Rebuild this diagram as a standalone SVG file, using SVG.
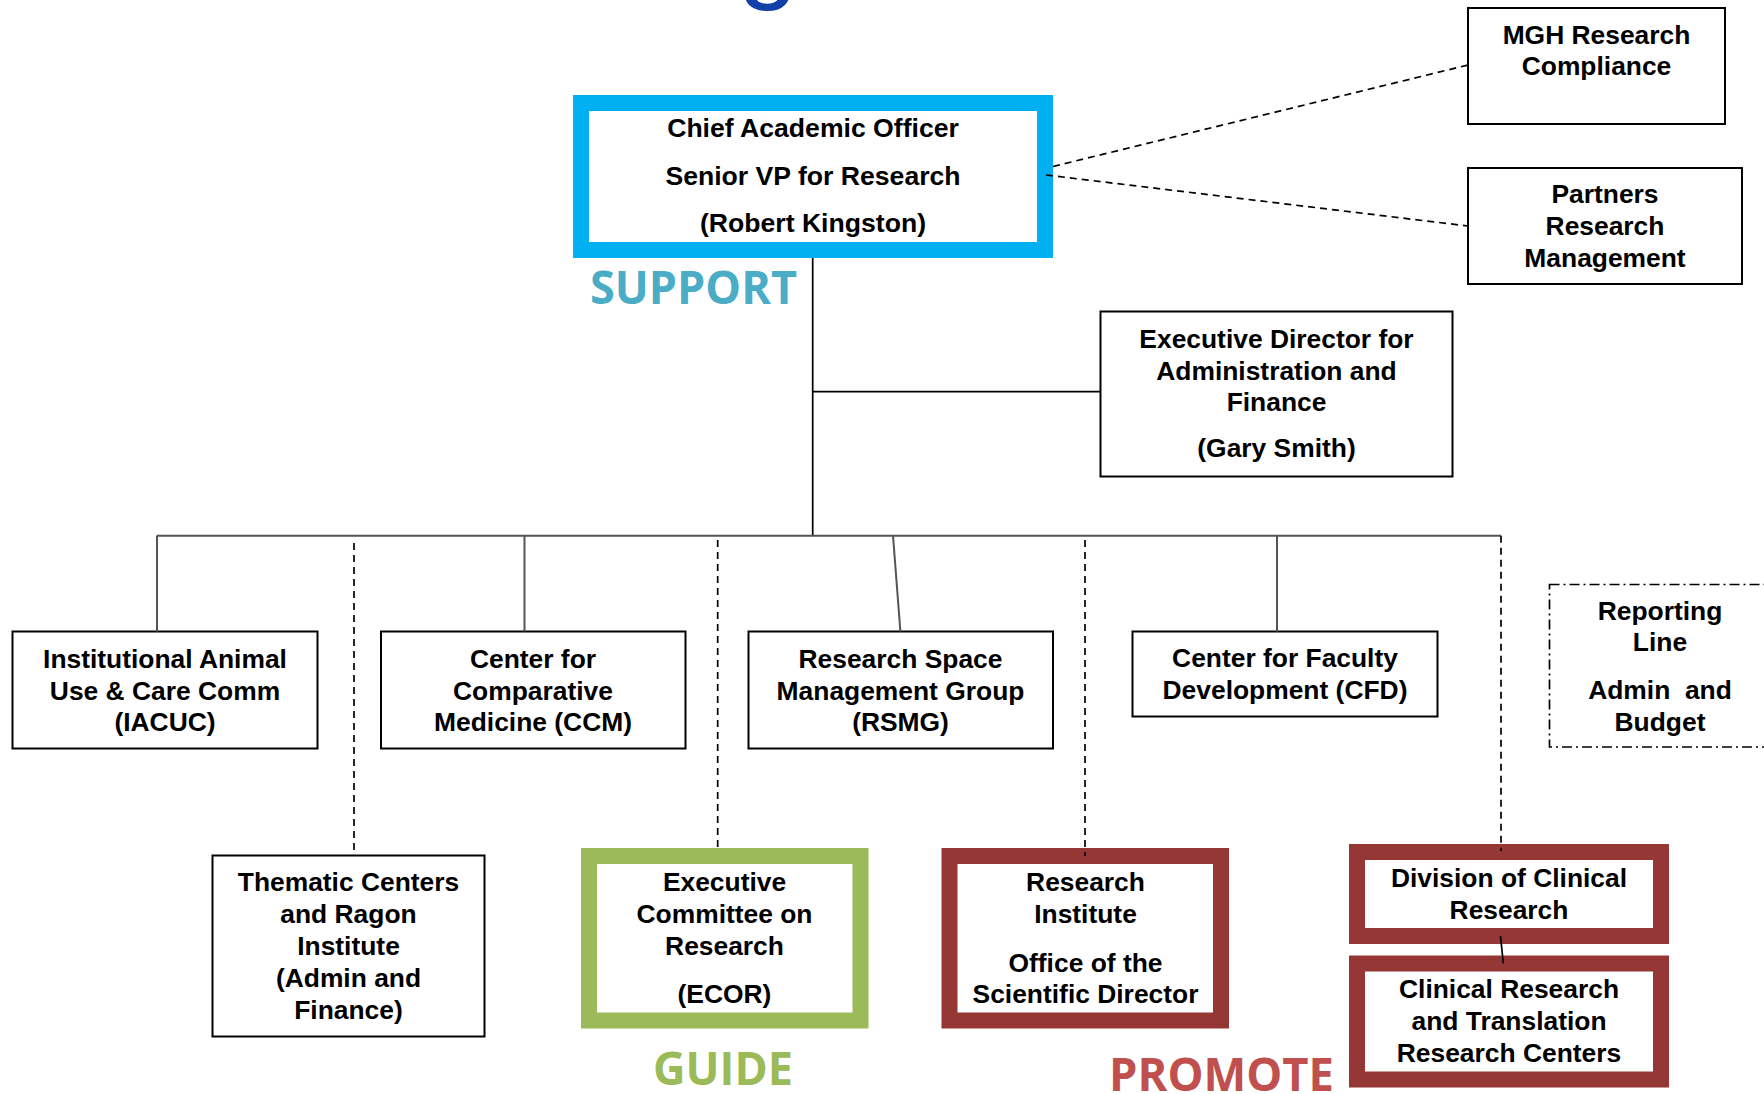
<svg xmlns="http://www.w3.org/2000/svg" width="1764" height="1094" viewBox="0 0 1764 1094">
<style>
.box{fill:#fff;stroke:#000;stroke-width:2}
.t{font-family:"Liberation Sans",Arial,sans-serif;font-weight:bold;font-size:26.4px;fill:#000;text-anchor:middle}
.big{font-family:"Open Sans","Liberation Sans",sans-serif;font-weight:bold;font-size:46px}
.solid{fill:none;stroke:#000;stroke-width:1.7}
.bus{fill:none;stroke:#555;stroke-width:2}
.dash{fill:none;stroke:#000;stroke-width:1.7;stroke-dasharray:7 5}
</style>
<rect width="1764" height="1094" fill="#fff"/>
<text x="768" y="-11" font-family="Liberation Sans,sans-serif" font-size="108" fill="#1040A8" text-anchor="middle">g</text>

<g id="chief">
<rect x="581" y="103" width="464" height="147" fill="#fff" stroke="#00B0F0" stroke-width="16"/>
<text class="t" style="font-size:26.6px"><tspan x="813" y="137">Chief Academic Officer</tspan><tspan x="813" y="185">Senior VP for Research</tspan><tspan x="813" y="232">(Robert Kingston)</tspan></text>
</g>
<text id="support" class="big" x="590" y="304" fill="#4BACC6" textLength="207" lengthAdjust="spacingAndGlyphs">SUPPORT</text>

<g id="mgh">
<rect class="box" x="1468" y="8" width="257" height="116"/>
<text class="t"><tspan x="1596.5" y="43.5">MGH Research</tspan><tspan x="1596.5" y="75">Compliance</tspan></text>
</g>
<g id="partners">
<rect class="box" x="1468" y="168" width="274" height="116"/>
<text class="t"><tspan x="1605" y="203">Partners</tspan><tspan x="1605" y="235">Research</tspan><tspan x="1605" y="267">Management</tspan></text>
</g>
<g id="exec">
<rect class="box" x="1100.5" y="311.5" width="352" height="165"/>
<text class="t"><tspan x="1276.5" y="348">Executive Director for</tspan><tspan x="1276.5" y="380">Administration and</tspan><tspan x="1276.5" y="411">Finance</tspan><tspan x="1276.5" y="457">(Gary Smith)</tspan></text>
</g>

<g id="iacuc">
<rect class="box" x="12.5" y="631.5" width="305" height="117"/>
<text class="t"><tspan x="165" y="668">Institutional Animal</tspan><tspan x="165" y="700">Use &amp; Care Comm</tspan><tspan x="165" y="731">(IACUC)</tspan></text>
</g>
<g id="ccm">
<rect class="box" x="381" y="631.5" width="304.5" height="117"/>
<text class="t"><tspan x="533" y="668">Center for</tspan><tspan x="533" y="700">Comparative</tspan><tspan x="533" y="731">Medicine (CCM)</tspan></text>
</g>
<g id="rsmg">
<rect class="box" x="748.5" y="631.5" width="304.5" height="117"/>
<text class="t"><tspan x="900.5" y="668">Research Space</tspan><tspan x="900.5" y="700">Management Group</tspan><tspan x="900.5" y="731">(RSMG)</tspan></text>
</g>
<g id="cfd">
<rect class="box" x="1132.5" y="631.5" width="305" height="85"/>
<text class="t"><tspan x="1285" y="667">Center for Faculty</tspan><tspan x="1285" y="699">Development (CFD)</tspan></text>
</g>
<g id="legend">
<rect x="1549.5" y="584.5" width="240" height="162.5" fill="#fff" stroke="#000" stroke-width="1.7" stroke-dasharray="10 4 2 4"/>
<text class="t"><tspan x="1660" y="619.5">Reporting</tspan><tspan x="1660" y="651">Line</tspan><tspan x="1660" y="699" style="white-space:pre" xml:space="preserve">Admin  and</tspan><tspan x="1660" y="731">Budget</tspan></text>
</g>

<g id="thematic">
<rect class="box" x="212.5" y="855.5" width="272" height="181"/>
<text class="t"><tspan x="348.5" y="891">Thematic Centers</tspan><tspan x="348.5" y="923">and Ragon</tspan><tspan x="348.5" y="955">Institute</tspan><tspan x="348.5" y="987">(Admin and</tspan><tspan x="348.5" y="1019">Finance)</tspan></text>
</g>
<g id="ecor">
<rect x="589" y="856" width="271.5" height="164.5" fill="#fff" stroke="#9BBB59" stroke-width="16"/>
<text class="t"><tspan x="724.5" y="891">Executive</tspan><tspan x="724.5" y="923">Committee on</tspan><tspan x="724.5" y="955">Research</tspan><tspan x="724.5" y="1003">(ECOR)</tspan></text>
</g>
<text id="guide" class="big" x="653" y="1085" fill="#9BBB59" textLength="140" lengthAdjust="spacingAndGlyphs">GUIDE</text>
<g id="ri">
<rect x="949.5" y="856" width="271.5" height="164.5" fill="#fff" stroke="#953735" stroke-width="16"/>
<text class="t"><tspan x="1085.5" y="891">Research</tspan><tspan x="1085.5" y="923">Institute</tspan><tspan x="1085.5" y="971.5">Office of the</tspan><tspan x="1085.5" y="1003">Scientific Director</tspan></text>
</g>
<text id="promote" class="big" x="1109" y="1090.5" fill="#C0504D" textLength="225" lengthAdjust="spacingAndGlyphs">PROMOTE</text>
<g id="dcr">
<rect x="1357" y="852" width="304" height="84" fill="#fff" stroke="#953735" stroke-width="16"/>
<text class="t"><tspan x="1509" y="887">Division of Clinical</tspan><tspan x="1509" y="919">Research</tspan></text>
</g>
<g id="crtr">
<rect x="1357" y="963.5" width="304" height="116" fill="#fff" stroke="#953735" stroke-width="16"/>
<text class="t"><tspan x="1509" y="998">Clinical Research</tspan><tspan x="1509" y="1030">and Translation</tspan><tspan x="1509" y="1061.5">Research Centers</tspan></text>
</g>

<g id="connectors">
<path class="solid" d="M812.7 258V535.7M812.7 391.7H1100.5"/>
<path class="bus" d="M156.7 535.7H1501M157 535.7V631.5M524.5 535.7V631.5M893 535.7L900.4 631.5M1277 535.7V631.5"/>
<path class="dash" d="M354 543V855.5M717.7 540V848M1085 540V856M1501 535.7V851"/>
<path class="dash" d="M1053 166.5L1468 65M1046 175L1468 226"/>
<path class="solid" d="M1500.5 936L1503.3 963.3"/>
</g>
</svg>
